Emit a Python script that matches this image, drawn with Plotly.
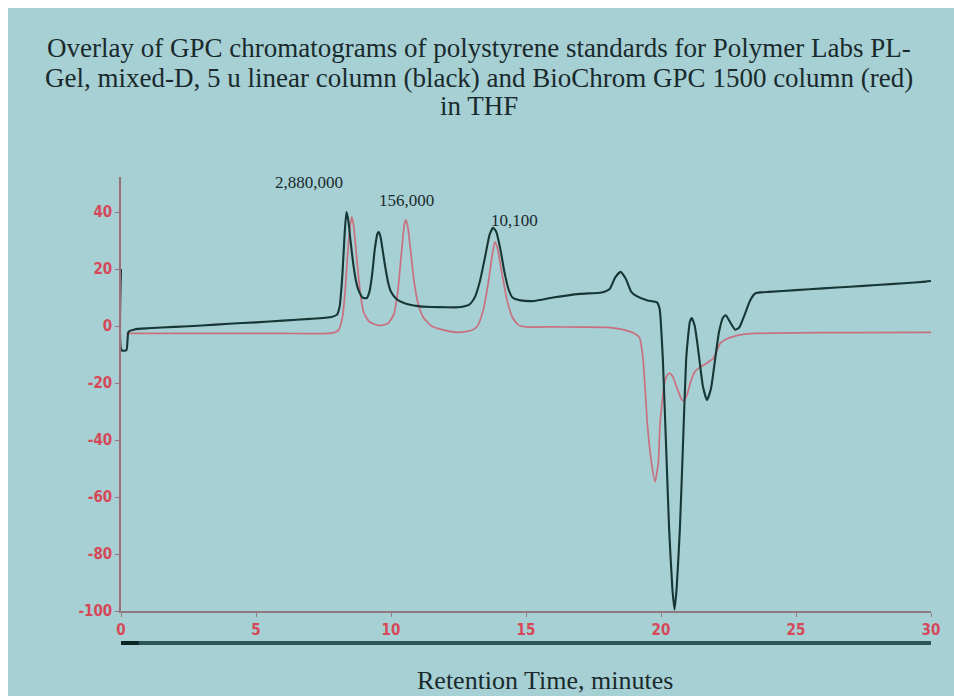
import plotly.graph_objects as go

# ---- data ----
black_x = [0.00, 0.02, 0.20, 0.28, 0.50, 1.0, 2.0, 3.0, 4.0, 5.0, 6.0, 7.0, 7.8, 8.0, 8.1, 8.2, 8.28, 8.35,
           8.42, 8.5, 8.6, 8.7, 8.8, 8.95, 9.1, 9.2, 9.3, 9.4, 9.5, 9.55, 9.62, 9.7, 9.8, 9.9, 10.0, 10.2,
           10.5, 11.0, 11.5, 12.0, 12.5, 12.9, 13.1, 13.3, 13.5, 13.65, 13.78, 13.9, 14.05, 14.2, 14.35,
           14.5, 14.8, 15.3, 16.0, 17.0, 17.8, 18.1, 18.3, 18.5, 18.7, 18.9, 19.1, 19.5, 19.85, 19.95,
           20.02, 20.07, 20.2, 20.3, 20.42, 20.5, 20.58, 20.7, 20.82, 20.93, 21.0, 21.07, 21.14, 21.25,
           21.4, 21.55, 21.7, 21.85, 22.0, 22.15, 22.3, 22.4, 22.55, 22.75, 22.9, 23.1, 23.3, 23.5, 24.0,
           25.0, 26.0, 27.0, 28.0, 29.0, 29.8, 30.0]
black_y = [20.0, -8.5, -8.5, -2.0, -1.2, -0.8, -0.3, 0.2, 0.8, 1.3, 1.9, 2.5, 3.2, 4.0, 7.0, 18.0, 32.0, 40.0,
           37.0, 30.0, 22.0, 16.0, 12.5, 10.0, 9.8, 12.0, 18.0, 27.0, 32.5, 33.0, 31.0, 26.0, 20.0, 15.0, 12.0, 9.5,
           8.0, 7.0, 6.7, 6.6, 6.6, 7.5, 10.0, 16.0, 25.0, 32.0, 34.5, 33.0, 27.0, 19.0, 13.0,
           10.0, 9.0, 8.8, 10.0, 11.3, 11.8, 13.0, 17.0, 19.0, 16.5, 12.0, 10.5, 9.0, 8.3, 6.0,
           -3.0, -12.0, -45.0, -71.0, -92.0, -99.5, -92.0, -71.0, -40.0, -12.0, -4.0, 1.5, 2.8, 0.0,
           -10.0, -21.0, -26.0, -22.0, -12.0, -2.0, 3.0, 3.8, 1.5, -1.3, -0.5, 4.0, 9.0, 11.5, 12.0,
           12.6, 13.2, 13.8, 14.4, 15.0, 15.6, 15.8]

red_x = [0.2, 2.0, 4.0, 6.0, 7.8, 8.05, 8.2, 8.3, 8.4, 8.5, 8.55, 8.62, 8.7, 8.8, 8.9, 9.0, 9.2, 9.5, 9.7,
         9.9, 10.1, 10.25, 10.4, 10.5, 10.55, 10.62, 10.72, 10.85, 11.0, 11.2, 11.5, 12.0, 12.5, 13.0,
         13.2, 13.4, 13.6, 13.75, 13.85, 13.95, 14.1, 14.3, 14.5, 14.7, 15.0, 16.0, 17.0, 18.0, 18.4,
         18.7, 19.0, 19.2, 19.33, 19.5, 19.65, 19.78, 19.9, 19.96, 20.05, 20.15, 20.25, 20.33, 20.45,
         20.6, 20.75, 20.83, 20.95, 21.1, 21.25, 21.44, 21.7, 21.94, 22.2, 22.45, 22.67, 23.0, 23.5,
         25.0, 27.0, 30.0]
red_y = [-2.6, -2.6, -2.6, -2.6, -2.5, -1.5, 3.0, 12.0, 26.0, 36.0, 38.3, 35.0, 27.0, 17.0, 9.0, 4.5, 1.5, 0.3, 0.3,
         1.0, 4.0, 12.0, 27.0, 36.0, 37.2, 35.0, 27.0, 16.0, 8.0, 3.0, 0.0, -1.5, -2.2, -1.5,
         0.0, 5.0, 15.0, 25.0, 29.5, 27.0, 19.0, 9.0, 3.0, 0.5, -0.3, -0.3, -0.4, -0.5, -0.9,
         -1.5, -2.5, -4.0, -11.0, -35.0, -48.0, -54.6, -48.0, -35.0, -26.0, -19.0, -17.0, -16.6, -18.0,
         -22.0, -25.5, -26.3, -24.5, -19.5, -16.0, -14.5, -13.0, -11.3, -6.0, -4.5, -3.7, -3.0, -2.6,
         -2.4, -2.3, -2.2]

x_ticks = [0, 5, 10, 15, 20, 25, 30]
y_ticks = [40, 20, 0, -20, -40, -60, -80, -100]

peak_labels = ["2,880,000", "156,000", "10,100"]
peak_label_x = [6.96, 10.59, 14.59]
peak_label_y = [50.2, 43.9, 37.2]

title_lines = [
    "Overlay of GPC chromatograms of polystyrene standards for Polymer Labs PL-",
    "Gel, mixed-D, 5 u linear column (black) and BioChrom GPC 1500 column (red)",
    "in THF",
]
x_title = "Retention Time, minutes"

# ---- styling ----
BG = "#a6d0d4"
SERIF = "Liberation Serif, Times New Roman, serif"
TICKFONT = dict(family="Liberation Sans Narrow, DejaVu Sans Condensed, Liberation Sans, sans-serif",
                size=15, color="#d64858", weight="bold")

fig = go.Figure()
fig.add_trace(go.Scatter(x=red_x, y=red_y, mode="lines",
                         line=dict(color="#c9707e", width=1.7, shape="spline", smoothing=0.5),
                         hoverinfo="skip"))
fig.add_trace(go.Scatter(x=black_x, y=black_y, mode="lines",
                         line=dict(color="#173636", width=2.1, shape="spline", smoothing=0.5),
                         hoverinfo="skip"))

annotations = []
for t, xx, yy in zip(peak_labels, peak_label_x, peak_label_y):
    annotations.append(dict(x=xx, y=yy, xref="x", yref="y", text=t, showarrow=False,
                            font=dict(family=SERIF, size=17, color="#1a2a2c")))

title_y = [1.297, 1.228, 1.1636]
for t, yy in zip(title_lines, title_y):
    annotations.append(dict(x=0.4415, y=yy, xref="paper", yref="paper", text=t, showarrow=False,
                            xanchor="center", yanchor="middle",
                            font=dict(family=SERIF, size=27, color="#1a2a2c")))

annotations.append(dict(x=0.5235, y=-0.159, xref="paper", yref="paper", text=x_title,
                        showarrow=False, xanchor="center", yanchor="middle",
                        font=dict(family=SERIF, size=26, color="#1a2a2c")))

shapes = [
    # dark bar under x axis
    dict(type="line", xref="paper", yref="paper", x0=0, x1=1, y0=-0.0737, y1=-0.0737,
         line=dict(color="#2c5656", width=4)),
    dict(type="line", xref="paper", yref="paper", x0=0, x1=0.022, y0=-0.0737, y1=-0.0737,
         line=dict(color="#0e2424", width=4)),
]

fig.update_layout(
    width=946, height=688,
    margin=dict(l=113, r=23, t=169, b=85),
    paper_bgcolor=BG, plot_bgcolor=BG,
    showlegend=False,
    annotations=annotations,
    shapes=shapes,
    xaxis=dict(range=[0, 30], tickvals=x_ticks, ticktext=[str(v) for v in x_ticks],
               showgrid=False, zeroline=False, showline=True, linecolor="#8f7a82", linewidth=1.6,
               ticks="outside", ticklen=4, tickcolor="#8f7a82", tickfont=TICKFONT),
    yaxis=dict(range=[-100, 52.3], tickvals=y_ticks, ticktext=[str(v) for v in y_ticks],
               showgrid=False, zeroline=False, showline=True, linecolor="#9a7078", linewidth=1.6,
               ticks="outside", ticklen=4, tickcolor="#9a7078", tickfont=TICKFONT),
)

post = ("document.documentElement.style.overflow='hidden';"
        "document.body.style.overflow='hidden';"
        "document.body.style.marginRight='0';document.body.style.marginBottom='0';")
fig.write_html("out.html", post_script=post)
